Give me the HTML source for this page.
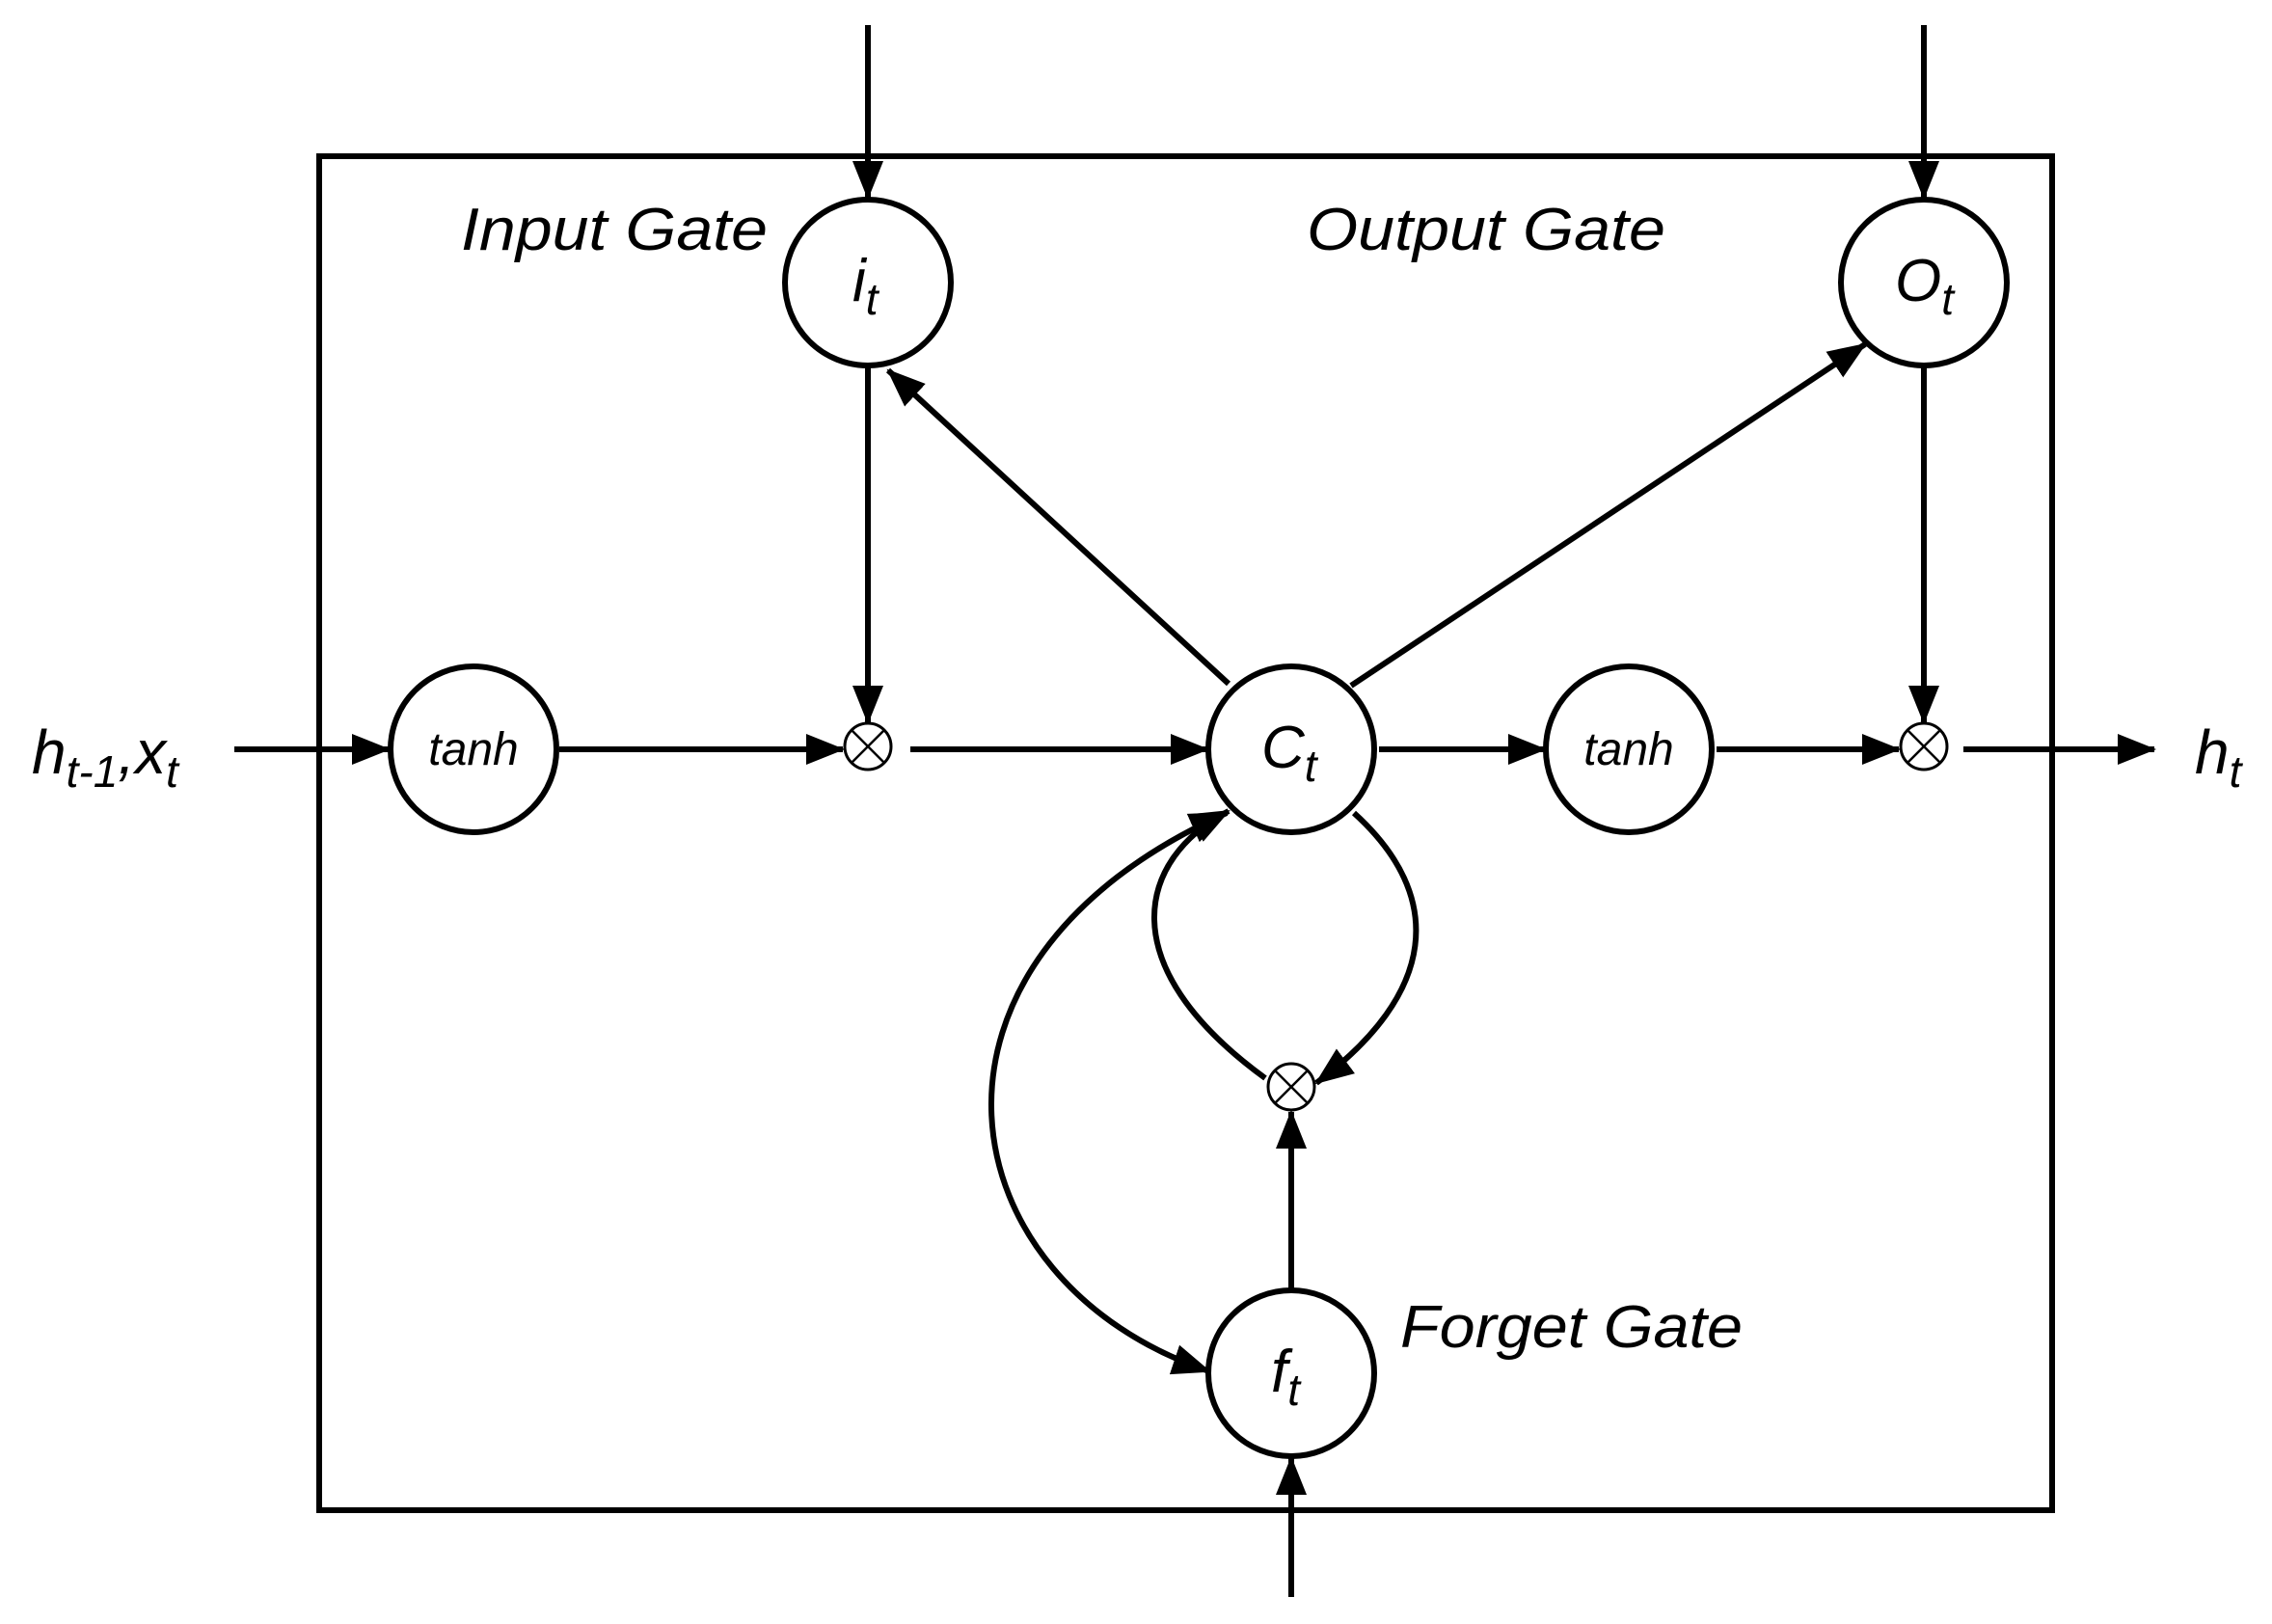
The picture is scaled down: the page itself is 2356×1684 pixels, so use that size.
<!DOCTYPE html>
<html><head><meta charset="utf-8"><style>
html,body{margin:0;padding:0;background:#fff;}
svg{display:block;}
text{font-family:"Liberation Sans",sans-serif;font-style:italic;fill:#000;}
</style></head><body>
<svg width="2356" height="1684" viewBox="0 0 2356 1684" xmlns="http://www.w3.org/2000/svg">
<defs>
<marker id="a" markerWidth="40" markerHeight="34" refX="38" refY="17" orient="auto" markerUnits="userSpaceOnUse">
<path d="M0,1 L40,17 L0,33 Z" fill="#000"/>
</marker>
<marker id="b" markerWidth="40" markerHeight="34" refX="2" refY="17" orient="auto" markerUnits="userSpaceOnUse">
<path d="M40,1 L0,17 L40,33 Z" fill="#000"/>
</marker>
</defs>
<rect x="331" y="162" width="1797" height="1404" fill="none" stroke="#000" stroke-width="6"/>
<g stroke="#000" stroke-width="6" fill="none">
<line x1="900" y1="26" x2="900" y2="205" marker-end="url(#a)"/>
<line x1="1995" y1="26" x2="1995" y2="205" marker-end="url(#a)"/>
<line x1="1339" y1="1656" x2="1339" y2="1512" marker-end="url(#a)"/>
<line x1="243" y1="777" x2="403" y2="777" marker-end="url(#a)"/>
<line x1="580" y1="777" x2="874" y2="777" marker-end="url(#a)"/>
<line x1="944" y1="777" x2="1252" y2="777" marker-end="url(#a)"/>
<line x1="1430" y1="777" x2="1602" y2="777" marker-end="url(#a)"/>
<line x1="1780" y1="777" x2="1969" y2="777" marker-end="url(#a)"/>
<line x1="2036" y1="777" x2="2234" y2="777" marker-end="url(#a)"/>
<line x1="900" y1="381" x2="900" y2="749" marker-end="url(#a)"/>
<line x1="1995" y1="381" x2="1995" y2="749" marker-end="url(#a)"/>
<line x1="1274" y1="709" x2="921" y2="384" marker-end="url(#a)"/>
<line x1="1401" y1="711" x2="1934" y2="357" marker-end="url(#a)"/>
<line x1="1339" y1="1336" x2="1339" y2="1153" marker-end="url(#a)"/>
<path d="M1312 1118 C1150 1000, 1180 890, 1274 841" marker-end="url(#a)"/>
<path d="M1404 843 C1500 930, 1490 1030, 1365 1123" marker-end="url(#a)"/>
<path d="M1254 1422 C980 1330, 920 1000, 1272 843" marker-start="url(#b)" marker-end="url(#a)"/>
</g>
<g stroke="#000" stroke-width="6" fill="#fff">
<circle cx="900" cy="293" r="86"/>
<circle cx="1995" cy="293" r="86"/>
<circle cx="491" cy="777" r="86"/>
<circle cx="1339" cy="777" r="86"/>
<circle cx="1689" cy="777" r="86"/>
<circle cx="1339" cy="1424" r="86"/>
</g>
<g stroke="#000" stroke-width="3" fill="#fff">
<circle cx="900" cy="774" r="24"/>
<circle cx="1995" cy="774" r="24"/>
<circle cx="1339" cy="1127" r="24"/>
</g>
<g stroke="#000" stroke-width="2.5">
<path d="M883 757 L917 791 M917 757 L883 791"/>
<path d="M1978 757 L2012 791 M2012 757 L1978 791"/>
<path d="M1322 1110 L1356 1144 M1356 1110 L1322 1144"/>
</g>
<text x="478" y="259" font-size="62" textLength="318" lengthAdjust="spacingAndGlyphs">Input Gate</text>
<text x="1355" y="259" font-size="62" textLength="372" lengthAdjust="spacingAndGlyphs">Output Gate</text>
<text x="1452" y="1397" font-size="62" textLength="355" lengthAdjust="spacingAndGlyphs">Forget Gate</text>
<text x="491" y="793" font-size="48" text-anchor="middle">tanh</text>
<text x="1689" y="793" font-size="48" text-anchor="middle">tanh</text>
<text x="884" y="312" font-size="62">i<tspan font-size="46" dy="14">t</tspan></text>
<text x="1965" y="312" font-size="62">O<tspan font-size="46" dy="14">t</tspan></text>
<text x="1308" y="796" font-size="62">C<tspan font-size="46" dy="14">t</tspan></text>
<text x="1318" y="1443" font-size="62">f<tspan font-size="46" dy="14">t</tspan></text>
<text x="33" y="802" font-size="64">h<tspan font-size="46" dy="14">t-1</tspan><tspan dy="-14">,x</tspan><tspan font-size="46" dy="14">t</tspan></text>
<text x="2276" y="802" font-size="64">h<tspan font-size="46" dy="14">t</tspan></text>
</svg>
</body></html>
